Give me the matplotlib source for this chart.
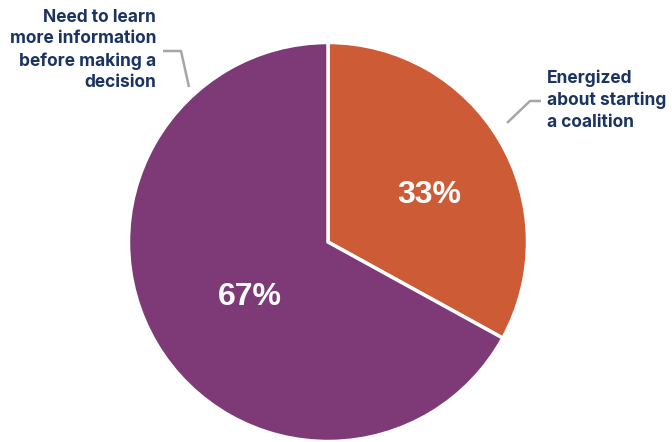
import matplotlib
matplotlib.use("Agg")
import matplotlib.pyplot as plt

categories = ["Energized\nabout starting\na coalition",
              "Need to learn\nmore information\nbefore making a\ndecision"]
values = [33, 67]
colors = ["#CD5B36", "#7D3A77"]
label_color = "#1B3360"

W, H = 672, 442
fig = plt.figure(figsize=(W / 100, H / 100), dpi=100)
cx, cy, r = 328, 242, 199.5
ax = fig.add_axes([(cx - r) / W, (H - cy - r) / H, 2 * r / W, 2 * r / H])

wedges, texts, autotexts = ax.pie(
    values, colors=colors, startangle=90, counterclock=False,
    autopct=lambda p: f"{p:.0f}%", pctdistance=0.55,
    wedgeprops=dict(edgecolor="white", linewidth=2.5),
    textprops=dict(color="white", fontsize=23, fontweight="bold",
                   family=["Liberation Sans", "DejaVu Sans"]))
ax.set_xlim(-1, 1)
ax.set_ylim(-1, 1)
ax.set_aspect("equal")
ax.axis("off")

# fine-tune the percent label positions to match the reference
autotexts[0].set_position((0.51, 0.235))
autotexts[1].set_position((-0.39, -0.275))

def px(x, y):
    return ((x - cx) / r, (cy - y) / r)

lfont = dict(fontsize=12.5, fontweight="bold", color=label_color,
             family=["Inter", "DejaVu Sans"], linespacing=1.36)

# right label (Energized ...)
ax.text(*px(547, 100), categories[0], ha="left", va="center", **lfont)
xs, ys = zip(px(507, 123), px(530, 101), px(541, 101))
ax.plot(xs, ys, color="#A6A6A6", lw=1.8, clip_on=False, solid_capstyle="butt")

# left label (Need to learn ...)
ax.text(*px(156, 50), categories[1], ha="right", va="center", **lfont)
xs, ys = zip(px(163, 51), px(181, 51), px(189, 87))
ax.plot(xs, ys, color="#A6A6A6", lw=1.8, clip_on=False, solid_capstyle="butt")

fig.savefig("out.png", dpi=100)
